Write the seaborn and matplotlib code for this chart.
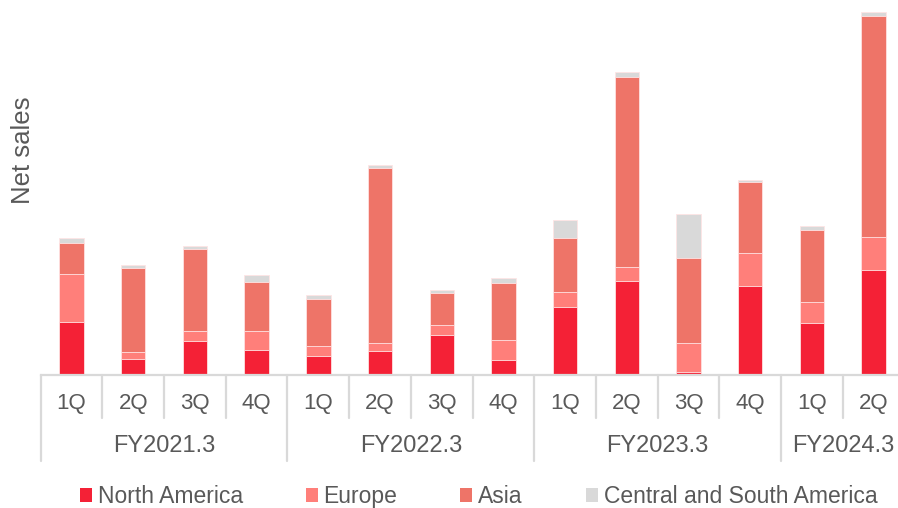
import numpy as np
import pandas as pd
import matplotlib
matplotlib.use("Agg")
import matplotlib.pyplot as plt
import matplotlib.transforms as mtransforms
from matplotlib.lines import Line2D
from matplotlib.patches import Patch
import seaborn as sns

# Quarterly net sales by region (relative units)
fiscal_years = ["FY2021.3", "FY2022.3", "FY2023.3", "FY2024.3"]
quarters_per_year = [4, 4, 4, 2]
quarters = ["1Q", "2Q", "3Q", "4Q", "1Q", "2Q", "3Q", "4Q",
            "1Q", "2Q", "3Q", "4Q", "1Q", "2Q"]
north_america = [53.0, 16.0, 34.0, 25.0, 18.3, 23.6, 40.0, 14.6,
                 67.8, 93.3, 2.6, 88.6, 51.6, 104.6]
europe = [47.7, 6.7, 9.7, 18.7, 10.0, 8.4, 9.3, 19.7,
          15.2, 14.0, 28.7, 33.4, 20.7, 32.7]
asia = [30.7, 84.0, 82.3, 49.3, 47.3, 175.0, 32.3, 57.3,
        53.6, 190.3, 85.0, 71.0, 72.7, 221.3]
central_south_america = [5.3, 3.0, 2.7, 7.0, 4.3, 2.3, 2.7, 4.7,
                         18.0, 5.0, 44.0, 1.6, 3.6, 4.0]

regions = ["North America", "Europe", "Asia", "Central and South America"]
colors = ["#F42136", "#FF7F7A", "#EE7468", "#D9D9D9"]
text_color = "#595959"
rule_color = "#D9D9D9"

sns.set_theme(style="white")
plt.rcParams["font.family"] = ["Liberation Sans", "DejaVu Sans"]

W, H = 898, 508
fig = plt.figure(figsize=(W / 100, H / 100), dpi=100)

left_px, base_px, top_px = 40.7, 374.5, 8.0
ax = fig.add_axes([left_px / W, 1 - base_px / H,
                   (W - left_px) / W, (base_px - top_px) / H])

slot = 61.7
n = len(quarters)
pos = [f"q{i}" for i in range(n)]
layers = [north_america, europe, asia, central_south_america]
cum = np.cumsum(np.array(layers), axis=0)

# Stacked bars: draw the cumulative totals from the top layer down
for k in range(len(layers) - 1, -1, -1):
    df = pd.DataFrame({"pos": pos, "value": cum[k]})
    sns.barplot(data=df, x="pos", y="value", order=pos, color=colors[k],
                width=0.394, saturation=1, edgecolor="#FFE4E4",
                linewidth=0.6, ax=ax)

ax.set_xlim(-0.5, -0.5 + (W - left_px) / slot)
ax.set_ylim(0, base_px - top_px)
ax.set_xticks([])
ax.set_yticks([])
ax.set_xlabel("")
ax.set_ylabel("")
for s in ["top", "right", "left"]:
    ax.spines[s].set_visible(False)
ax.spines["bottom"].set_color(rule_color)
ax.spines["bottom"].set_linewidth(1.6)

# Two-level category axis
tr = mtransforms.blended_transform_factory(ax.transData, fig.transFigure)
yq = 1 - 403 / H
yfy = 1 - 446 / H
y_base = 1 - base_px / H
y_qdiv = 1 - 418 / H
y_fydiv = 1 - 461 / H

for i, q in enumerate(quarters):
    ax.text(i, yq, q, transform=tr, ha="center", va="center",
            fontsize=16, color=text_color, clip_on=False)

group_edges = np.concatenate([[0], np.cumsum(quarters_per_year)])
for i in range(n + 1):
    xb = i - 0.5
    y_end = y_fydiv if i in group_edges else y_qdiv
    ax.add_line(Line2D([xb, xb], [y_base, y_end], transform=tr,
                       color=rule_color, lw=1.6, clip_on=False))

for g, fy in enumerate(fiscal_years):
    xc = (group_edges[g] + group_edges[g + 1] - 1) / 2
    ax.text(xc, yfy, fy, transform=tr, ha="center", va="center",
            fontsize=17, color=text_color, clip_on=False)

fig.text(23.5 / W, 1 - 150.5 / H, "Net sales", rotation=90,
         ha="center", va="center", fontsize=18.5, color=text_color)

handles = [Patch(facecolor=c, edgecolor="none", label=r)
           for c, r in zip(colors, regions)]
leg = fig.legend(handles=handles, loc="center",
                 bbox_to_anchor=(478.5 / W, 1 - 496.5 / H), ncol=4,
                 frameon=False, fontsize=16.5, handlelength=0.52,
                 handleheight=0.52, handletextpad=0.26,
                 columnspacing=2.75, borderpad=0, borderaxespad=0)
for t in leg.get_texts():
    t.set_color(text_color)

fig.savefig("out.png", dpi=100)
